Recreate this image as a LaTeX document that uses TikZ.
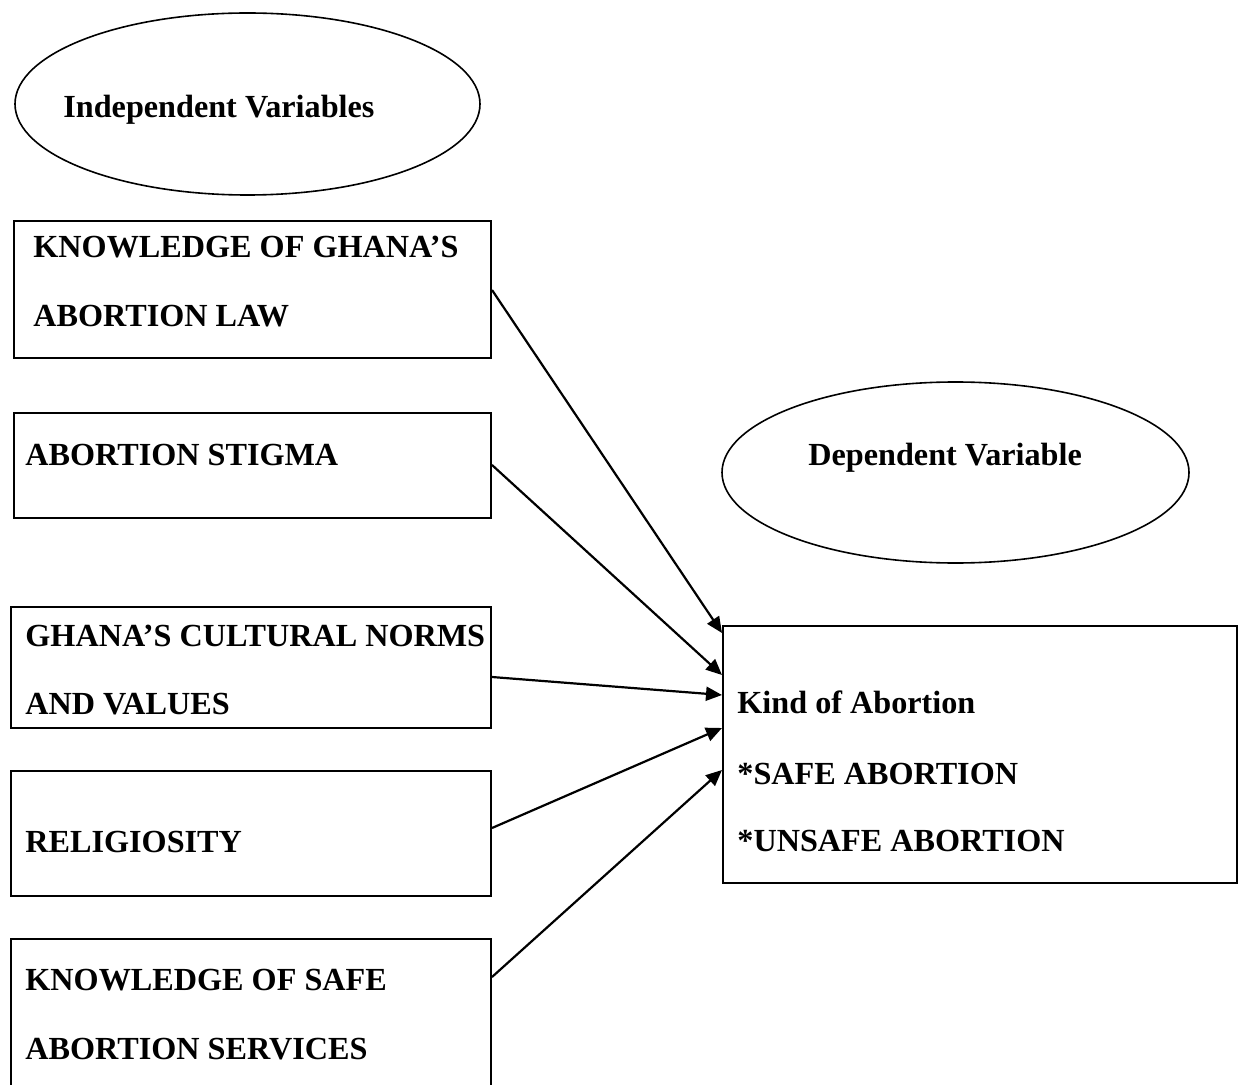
\documentclass[tikz,border=0pt]{standalone}
\usepackage{fontspec}
\setmainfont{Liberation Serif}
\usetikzlibrary{arrows.meta,shapes.geometric,calc}
\begin{document}
\begin{tikzpicture}[x=0.5pt,y=-0.5pt,
  txt/.style={anchor=base west,inner sep=0pt,font=\fontsize{16.1}{20}\selectfont\bfseries},
  vbox/.style={draw,line width=1pt,anchor=north west,inner sep=0pt,rectangle},
  oval/.style={draw,line width=0.8pt,ellipse,inner sep=0pt},
  arr/.style={line width=1.1pt,-{Triangle[length=8pt,width=7pt]}}]
\useasboundingbox (0,0) rectangle (1241,1085);
% ellipses
\node[oval,minimum width=232.5pt,minimum height=91pt] (iv) at (247.5,104) {};
\node[txt] (ivt) at (63,118) {Independent Variables};
\node[oval,minimum width=233.5pt,minimum height=90.5pt] (dvo) at (955.5,472.5) {};
\node[txt] (dvt) at (808,465) {Dependent Variable};
% left boxes
\node[vbox,minimum width=238.5pt,minimum height=68.5pt] (b1) at (13,220) {};
\node[txt] (b1a) at (33,258) {KNOWLEDGE OF GHANA’S};
\node[txt] (b1b) at (33,327) {ABORTION LAW};
\node[vbox,minimum width=238.5pt,minimum height=52.5pt] (b2) at (13,412) {};
\node[txt] (b2a) at (25,465) {ABORTION STIGMA};
\node[vbox,minimum width=240pt,minimum height=60.5pt] (b3) at (10,606) {};
\node[txt] (b3a) at (25,646) {GHANA’S CULTURAL NORMS};
\node[txt] (b3b) at (25,714) {AND VALUES};
\node[vbox,minimum width=240pt,minimum height=62.5pt] (b4) at (10,770) {};
\node[txt] (b4a) at (25,852) {RELIGIOSITY};
\node[vbox,minimum width=240pt,minimum height=85pt] (b5) at (10,938) {};
\node[txt] (b5a) at (25,990) {KNOWLEDGE OF SAFE};
\node[txt] (b5b) at (25,1059) {ABORTION SERVICES};
% dependent box
\node[vbox,minimum width=257pt,minimum height=128.5pt] (dv) at (722,625) {};
\node[txt] (dva) at (737,713) {Kind of Abortion};
\node[txt] (dvb) at (737,784) {*SAFE ABORTION};
\node[txt] (dvc) at (737,851) {*UNSAFE ABORTION};
% arrows
\draw[arr] ($(b1.north east)+(0,70)$) -- ($(dv.north west)+(0,8)$);
\draw[arr] ($(b2.north east)+(0,53)$) -- ($(dv.north west)+(0,50)$);
\draw[arr] ($(b3.north east)+(0,71)$) -- ($(dv.north west)+(0,70)$);
\draw[arr] ($(b4.north east)+(0,58)$) -- ($(dv.north west)+(0,103)$);
\draw[arr] ($(b5.north east)+(0,39)$) -- ($(dv.north west)+(0,145)$);
\end{tikzpicture}
\end{document}
